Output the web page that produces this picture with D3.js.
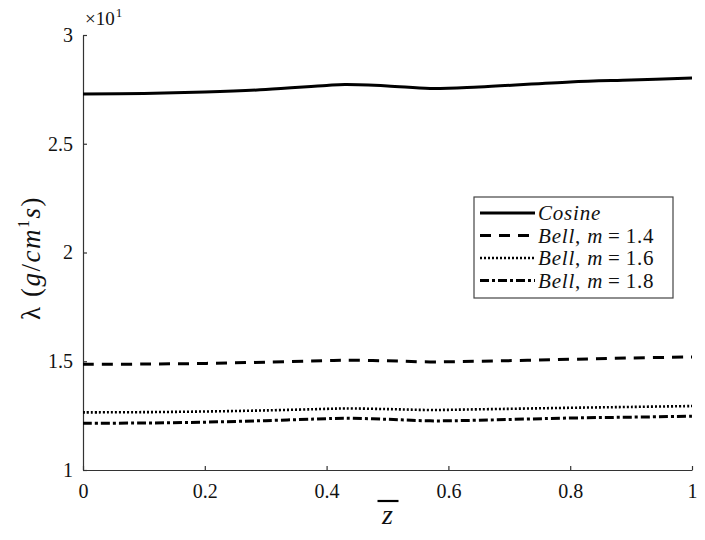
<!DOCTYPE html>
<html>
<head>
<meta charset="utf-8">
<script src="https://cdn.jsdelivr.net/npm/d3@7"></script>
<style>
  body { margin: 0; background: #fff; }
  svg text { font-family: "Liberation Serif", "DejaVu Serif", serif; fill: #111; }
</style>
</head>
<body>
<div id="chart"></div>
<script>
// data (values in units of 10^1)
const zValues = [0, 0.1, 0.2, 0.3, 0.4, 0.43, 0.5, 0.57, 0.65, 0.8, 0.9, 1];
const cosine = [2.729, 2.731, 2.738, 2.749, 2.768, 2.772, 2.766, 2.754, 2.761, 2.784, 2.793, 2.802];
const bell14 = [1.486, 1.487, 1.490, 1.496, 1.503, 1.505, 1.502, 1.497, 1.500, 1.509, 1.515, 1.520];
const bell16 = [1.265, 1.266, 1.269, 1.274, 1.281, 1.283, 1.280, 1.276, 1.279, 1.286, 1.290, 1.294];
const bell18 = [1.215, 1.216, 1.220, 1.227, 1.236, 1.238, 1.233, 1.226, 1.229, 1.239, 1.243, 1.247];
const xTicks = [0, 0.2, 0.4, 0.6, 0.8, 1];
const yTicks = [1, 1.5, 2, 2.5, 3];

const series = [
  {name: "Cosine", m: null, values: cosine, dash: null, width: 3},
  {name: "Bell", m: "1.4", values: bell14, dash: "11,8", width: 3},
  {name: "Bell", m: "1.6", values: bell16, dash: "2,2", width: 2.6},
  {name: "Bell", m: "1.8", values: bell18, dash: "9,3,3,3", width: 3}
];

const width = 705;
const height = 540;
const margin = {top: 35, right: 13, bottom: 70, left: 83};

const x = d3.scaleLinear()
            .domain([0, 1])
            .range([margin.left, width - margin.right]);

const y = d3.scaleLinear()
            .domain([1, 3])
            .range([height - margin.bottom, margin.top]);

const svg = d3.select("#chart")
              .append("svg")
              .attr("width", width)
              .attr("height", height);

// axes, ticks pointing inward
const xAxis = svg.append("g")
    .attr("transform", `translate(0, ${y(1)})`)
    .call(d3.axisBottom(x).tickValues(xTicks).tickSizeInner(-4).tickSizeOuter(0).tickPadding(14)
        .tickFormat(d => d3.format("~g")(d)));

const yAxis = svg.append("g")
    .attr("transform", `translate(${x(0)}, 0)`)
    .call(d3.axisLeft(y).tickValues(yTicks).tickSizeInner(-4).tickSizeOuter(0).tickPadding(10)
        .tickFormat(d => d3.format("~g")(d)));

[xAxis, yAxis].forEach(g => {
  g.select(".domain").attr("stroke", "#333").attr("stroke-width", 1.2);
  g.selectAll(".tick line").attr("stroke", "#333").attr("stroke-width", 1.2);
  g.selectAll(".tick text").attr("font-size", 20).attr("font-family", "Liberation Serif").attr("fill", "#111");
});
xAxis.selectAll(".tick text").attr("dy", "0.72em");

// lines
const line = d3.line()
    .x((d, i) => x(zValues[i]))
    .y(d => y(d))
    .curve(d3.curveCatmullRom);

svg.append("g")
    .selectAll("path")
    .data(series)
    .join("path")
      .attr("fill", "none")
      .attr("stroke", "#000")
      .attr("stroke-width", d => d.width)
      .attr("stroke-dasharray", d => d.dash)
      .attr("d", d => line(d.values));

// exponent label
const expo = svg.append("text")
    .attr("x", 85)
    .attr("y", 25)
    .attr("font-size", 19);
expo.append("tspan").text("×10");
expo.append("tspan").attr("font-size", 13).attr("dy", -8).attr("dx", 1).text("1");

// y label
const ylab = svg.append("text")
    .attr("transform", `translate(40, ${258}) rotate(-90)`)
    .attr("text-anchor", "middle")
    .attr("letter-spacing", 1.5)
    .attr("font-size", 27);
ylab.append("tspan").text("λ (");
ylab.append("tspan").attr("font-style", "italic").text("g");
ylab.append("tspan").text("/");
ylab.append("tspan").attr("font-style", "italic").text("cm");
ylab.append("tspan").attr("font-size", 16).attr("dy", -11).text("1");
ylab.append("tspan").attr("font-style", "italic").attr("dy", 11).text("s");
ylab.append("tspan").text(")");

// x label z with bar
svg.append("text")
    .attr("x", x(0.5))
    .attr("y", 524)
    .attr("text-anchor", "middle")
    .attr("font-size", 28)
    .attr("font-style", "italic")
    .attr("font-family", "DejaVu Sans")
    .text("z");
svg.append("line")
    .attr("x1", x(0.5) - 10)
    .attr("x2", x(0.5) + 11)
    .attr("y1", 501)
    .attr("y2", 501)
    .attr("stroke", "#000")
    .attr("stroke-width", 2.2);

// legend
const legend = svg.append("g").attr("transform", "translate(474, 197)");
legend.append("rect")
    .attr("width", 199)
    .attr("height", 101)
    .attr("fill", "#fff")
    .attr("stroke", "#444")
    .attr("stroke-width", 1.2);

const rows = legend.selectAll("g.row")
    .data(series)
    .join("g")
      .attr("class", "row")
      .attr("transform", (d, i) => `translate(0, ${16 + i * 22.5})`);

rows.append("line")
    .attr("x1", 6)
    .attr("x2", 61)
    .attr("stroke", "#000")
    .attr("stroke-width", d => d.width)
    .attr("stroke-dasharray", d => d.dash);

rows.each(function(d) {
  const t = d3.select(this).append("text")
      .attr("x", 64)
      .attr("y", 7)
      .attr("letter-spacing", 0.8)
      .attr("font-size", 21);
  t.append("tspan").attr("font-style", "italic").text(d.name);
  if (d.m) {
    t.append("tspan").text(", ");
    t.append("tspan").attr("font-style", "italic").text("m");
    t.append("tspan").attr("dx", 5).text("=");
    t.append("tspan").attr("dx", 5).text(d.m);
  }
});
</script>
</body>
</html>
